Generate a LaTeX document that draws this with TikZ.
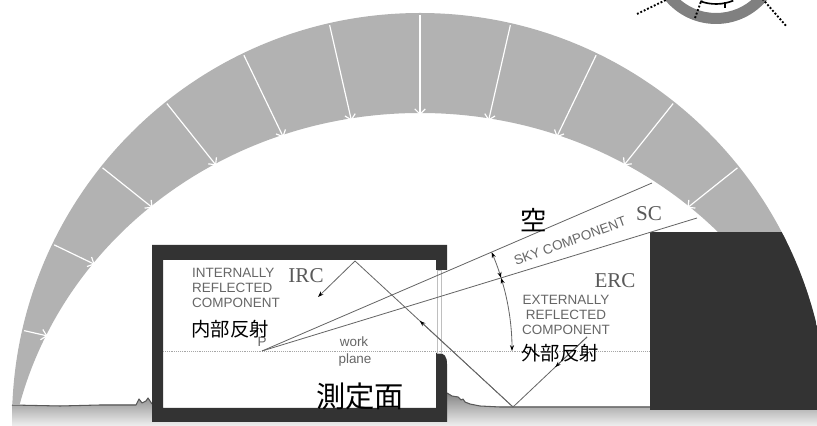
\documentclass[tikz,border=0pt]{standalone}
\usepackage{fontspec}
\setmainfont{Liberation Serif}
\setsansfont{Liberation Sans}
\newfontfamily\jpfont{Noto Sans CJK JP}
\usetikzlibrary{arrows.meta,calc}

\tikzset{
	lbl/.style={font=\sffamily\fontsize{11.5}{12.8}\selectfont, text=black!60, inner sep=0pt, align=center},
	abbr/.style={font=\fontsize{18}{18}\selectfont, text=black!65, inner sep=0pt},
	jp/.style={font=\jpfont\fontsize{16.5}{16.5}\selectfont, inner sep=0pt},
	ray/.style={black!60, line width=0.7pt},
	wall/.style={fill=black!80},
	dots/.style={black, line width=1.6pt, dash pattern=on 1.6pt off 1.6pt},
}

\begin{document}
\begin{tikzpicture}[x=0.03cm, y=0.03cm, line join=round, >={Stealth[length=5pt,width=3.5pt,color=black]}]
	\useasboundingbox (0,0) rectangle (817,426);
	\clip (0,0) rectangle (817,426);
	% ground
	\fill[top color=black!48, bottom color=black!6] (12,0) -- (12,21) -- (60,20) -- (100,21) -- (136,21) -- (139,27) -- (142,23) -- (146,25) -- (148,28) -- (152,22)
		-- (152,4) -- (447,4)
		-- (447,33) -- (452,30) -- (458,29) -- (461,26) -- (463,27) -- (465,24) -- (470,22) -- (480,20) -- (500,19) -- (817,19) -- (817,0) -- cycle;
	\draw[black!65, line width=0.9pt] (12,21) -- (60,20) -- (100,21) -- (136,21) -- (139,27) -- (142,23) -- (146,25) -- (148,28) -- (152,22);
	\draw[black!65, line width=0.9pt] (447,33) -- (452,30) -- (458,29) -- (461,26) -- (463,27) -- (465,24) -- (470,22) -- (480,20) -- (500,19) -- (817,19);
	% sky vault
	\begin{scope}
		\clip (0,21) rectangle (817,426);
		\fill[black!30, even odd rule] (420,5) circle (408) (420,-74) ellipse [x radius=413, y radius=387];
	\end{scope}
	\foreach \a/\t in {90/306, 77.14/308, 102.86/308, 64.29/315, 115.71/315, 51.43/327, 128.57/327, 38.57/342, 141.43/342, 154.29/361, 167.14/382}
	\draw[shift={(420,5)}, white, line width=1pt, -{Straight Barb[length=4.5pt,width=9pt]}] (\a:406) -- (\a:\t);
	% eye at the top
	\fill[black!50, even odd rule] (716,468) circle (66) (716,468) circle (55);
	\draw[black, line width=1.4pt] (716,468) ++(250:46) arc[start angle=250, end angle=292, radius=46];
	\draw[black, line width=1.2pt] (725,424) -- (725,418);
	\draw[dots] (637,412) -- (672,429);
	\draw[dots] (760,430) -- (787,399);
	\draw[dots] (695,408) -- (703,430);
	% obstruction
	\begin{scope}
		\clip (420,5) circle (408);
		\fill[wall] (650,16) rectangle (830,194);
	\end{scope}
	% room
	\fill[wall] (447,156) -- (447,181) -- (152,181) -- (152,4) -- (447,4) -- (447,62) .. controls (447,70) and (444,73) .. (438,73)
		-- (436,73) -- (436,18) -- (163,18) -- (163,166) -- (436,166) -- (436,156) -- cycle;
	\draw[black!25, line width=0.5pt] (437,73) rectangle (441,156);
	\draw[black!35, densely dotted, line width=0.6pt] (163,75) -- (650,75);
	% points
	\coordinate (P) at (262,75);
	\coordinate (sc1) at (652,243);
	\coordinate (sc2) at (697,208);
	\coordinate (Q) at (355,165);
	\coordinate (G) at (513,19);
	\coordinate (irc) at (318,129);
	\coordinate (erc) at (587,89);
	% rays
	\draw[ray] (P) -- (sc1);
	\draw[ray] (P) -- (sc2);
	\draw[ray, <->] (P) ++(17:250) arc[start angle=17, end angle=23.3, radius=250];
	\draw[ray, <->] (P) ++(0:250) arc[start angle=0, end angle=17, radius=250];
	\draw[ray] (G) -- (Q);
	\draw[ray, ->] (G) -- ($(G)!0.59!(Q)$);
	\draw[ray, ->] (Q) -- (irc);
	\draw[ray] (erc) -- (G);
	\draw[ray, ->] (erc) -- ($(erc)!0.43!(G)$);
	% labels
	\node[lbl, align=left, anchor=west] (intl) at (192,138) {INTERNALLY\\REFLECTED\\COMPONENT};
	\node[abbr] (irclbl) at (306,150) {IRC};
	\node[jp] (naibu) at (230,97) {内部反射};
	\node[lbl] (plbl) at (262,84) {P};
	\node[lbl] (work) at (354,84) {work};
	\node[lbl] (plane) at (355,66) {plane};
	\node[jp, font=\jpfont\fontsize{25}{25}\selectfont] (sokutei) at (360,30) {測定面};
	\node[lbl, rotate=20] (sky) at (570,185) {SKY COMPONENT};
	\node[abbr] (sclbl) at (649,212) {SC};
	\node[jp, font=\jpfont\fontsize{22.5}{22.5}\selectfont] (sora) at (534,206) {空};
	\node[abbr] (erclbl) at (615,145) {ERC};
	\node[lbl] (extl) at (566,111) {EXTERNALLY\\REFLECTED\\COMPONENT};
	\node[jp] (gaibu) at (560,73) {外部反射};
\end{tikzpicture}
\end{document}
